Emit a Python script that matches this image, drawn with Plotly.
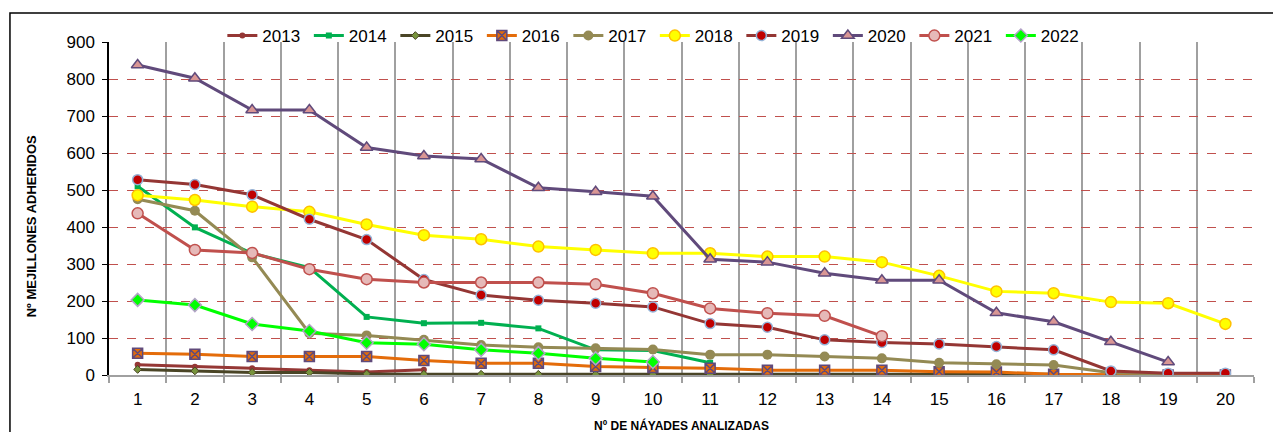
import plotly.graph_objects as go

# Nº de náyades analizadas
nayades = list(range(1, 21))

y2013 = [28, 22, 18, 13, 8, 14]
y2014 = [510, 399, 329, 290, 157, 140, 141, 126, 68, 66, 33]
y2015 = [15, 11, 7, 7, 3, 2, 2, 2, 2, 2, 2, 2, 2, 2, 2, 2, 2]
y2016 = [59, 56, 50, 50, 50, 39, 32, 32, 23, 20, 18, 13, 13, 13, 9, 8, 2, 0, 0, 0]
y2017 = [475, 444, 318, 113, 107, 95, 81, 75, 72, 69, 55, 55, 50, 45, 33, 29, 27, 6, 2]
y2018 = [486, 473, 455, 441, 407, 378, 367, 347, 338, 329, 329, 320, 320, 305, 268, 226, 221, 197, 194, 138]
y2019 = [528, 515, 487, 421, 366, 258, 216, 202, 194, 184, 139, 129, 95, 88, 84, 77, 68, 11, 5, 5]
y2020 = [838, 802, 716, 716, 615, 592, 584, 506, 495, 483, 313, 305, 275, 256, 256, 168, 144, 90, 35]
y2021 = [437, 338, 330, 286, 259, 250, 250, 250, 245, 221, 180, 167, 160, 105]
y2022 = [203, 189, 138, 119, 87, 83, 68, 59, 45, 35]

fig = go.Figure()

# 2013
fig.add_trace(go.Scatter(
    x=nayades[:len(y2013)], y=y2013, name='2013', mode='lines+markers',
    line=dict(color='#953735', width=3),
    marker=dict(symbol='circle', size=6, color='#953735')
))
# 2014
fig.add_trace(go.Scatter(
    x=nayades[:len(y2014)], y=y2014, name='2014', mode='lines+markers',
    line=dict(color='#00B050', width=3),
    marker=dict(symbol='square', size=6, color='#00B050')
))
# 2015
fig.add_trace(go.Scatter(
    x=nayades[:len(y2015)], y=y2015, name='2015', mode='lines+markers',
    line=dict(color='#4A4526', width=3),
    marker=dict(symbol='diamond', size=6, color='#77933C', line=dict(color='#4A4526', width=1))
))
# 2016
fig.add_trace(go.Scatter(
    x=nayades[:len(y2016)], y=y2016, name='2016', mode='lines+markers',
    line=dict(color='#E46C0A', width=3),
    marker=dict(symbol='square-x', size=10, color='#E46C0A', line=dict(color='#604A7B', width=1.5))
))
# 2017
fig.add_trace(go.Scatter(
    x=nayades[:len(y2017)], y=y2017, name='2017', mode='lines+markers',
    line=dict(color='#948A54', width=3),
    marker=dict(symbol='circle', size=10, color='#948A54')
))
# 2018
fig.add_trace(go.Scatter(
    x=nayades[:len(y2018)], y=y2018, name='2018', mode='lines+markers',
    line=dict(color='#FFFF00', width=3),
    marker=dict(symbol='circle', size=11, color='#FFFF00', line=dict(color='#FFC000', width=1.5))
))
# 2019
fig.add_trace(go.Scatter(
    x=nayades[:len(y2019)], y=y2019, name='2019', mode='lines+markers',
    line=dict(color='#943634', width=3),
    marker=dict(symbol='circle', size=10, color='#C00000', line=dict(color='#95B3D7', width=1.5))
))
# 2020
fig.add_trace(go.Scatter(
    x=nayades[:len(y2020)], y=y2020, name='2020', mode='lines+markers',
    line=dict(color='#604A7B', width=3),
    marker=dict(symbol='triangle-up', size=11, color='#D99694', line=dict(color='#604A7B', width=1.5))
))
# 2021
fig.add_trace(go.Scatter(
    x=nayades[:len(y2021)], y=y2021, name='2021', mode='lines+markers',
    line=dict(color='#C0504D', width=3),
    marker=dict(symbol='circle', size=11, color='#E6B9B8', line=dict(color='#C0504D', width=1.5))
))
# 2022
fig.add_trace(go.Scatter(
    x=nayades[:len(y2022)], y=y2022, name='2022', mode='lines+markers',
    line=dict(color='#00FF00', width=3),
    marker=dict(symbol='diamond', size=10, color='#00FF00', line=dict(color='#B3A2C7', width=1.5))
))

fig.update_layout(
    width=1281, height=432,
    margin=dict(l=101, r=35, t=34, b=65, autoexpand=False),
    paper_bgcolor='white', plot_bgcolor='white',
    font=dict(family='Liberation Sans, Arial, sans-serif', size=17, color='black'),
    showlegend=True,
    legend=dict(
        orientation='h', x=0.099, xanchor='left', y=1.018, yanchor='middle',
        bgcolor='rgba(0,0,0,0)', font=dict(size=17), traceorder='normal',
        entrywidth=41.5, entrywidthmode='pixels', itemwidth=30
    ),
    xaxis=dict(
        range=[0.5, 20.5], tickvals=nayades, ticktext=[str(n) for n in nayades],
        showgrid=False, ticks='', showline=True, linecolor='#A0A0A0', linewidth=2,
        ticklabelstandoff=8, zeroline=False, automargin=False,
        minor=dict(tick0=0.5, dtick=1, showgrid=True, gridcolor='#A0A0A0', gridwidth=1.5,
                   ticks='outside', ticklen=6, tickcolor='#A0A0A0', tickwidth=1.5),
        title=dict(text='<b>Nº DE NÁYADES ANALIZADAS</b>', font=dict(size=12), standoff=13)
    ),
    yaxis=dict(
        range=[0, 900], dtick=100, showgrid=True, gridcolor='#C0504D', gridwidth=1, griddash='dash',
        showline=True, linecolor='black', linewidth=1.5, ticks='outside', ticklen=5, tickcolor='black',
        zeroline=False, automargin=False, ticklabelstandoff=4
    )
)

# y-axis title, set a little below the plot's middle as in the original
fig.add_annotation(text='<b>Nº MEJILLONES ADHERIDOS</b>', xref='paper', yref='paper',
                   x=-0.068, y=0.447, textangle=-90, showarrow=False,
                   font=dict(size=13), xanchor='center', yanchor='middle')

# chart border
fig.add_shape(type='rect', xref='paper', yref='paper', x0=-0.0865, x1=1.1, y0=-0.4, y1=1.087,
              line=dict(color='black', width=1.5), layer='below')

fig.write_html("out.html")
